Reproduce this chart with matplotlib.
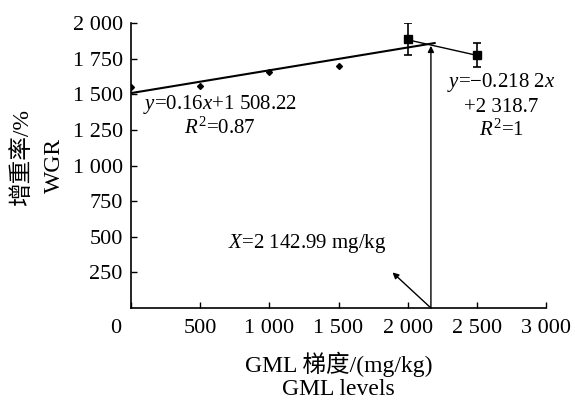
import numpy as np
import matplotlib
matplotlib.use("Agg")
import matplotlib.pyplot as plt
import matplotlib.transforms as mtransforms

plt.rcParams['font.family'] = ['Liberation Serif', 'Noto Sans CJK SC']
plt.rcParams['mathtext.fontset'] = 'custom'
plt.rcParams['mathtext.rm'] = 'Liberation Serif'
plt.rcParams['mathtext.it'] = 'Liberation Serif:italic'

# 数据
x_pts = [0, 500, 1000, 1500]
y_pts = [1550, 1555, 1655, 1695]
x_sq = [2000, 2500]
y_sq = [1886, 1775]
err_sq = [112, 84]

fit1_x = [0, 2195]
fit2_x = [2000, 2500]
x_opt = 2142.99

xticks = [0, 500, 1000, 1500, 2000, 2500, 3000]
xtick_labels = ['0', '500', '1 000', '1 500', '2 000', '2 500', '3 000']
yticks = [250, 500, 750, 1000, 1250, 1500, 1750, 2000]
ytick_labels = ['250', '500', '750', '1 000', '1 250', '1 500', '1 750', '2 000']

fig = plt.figure(figsize=(5.75, 4.04), dpi=100)
ax = fig.add_axes([0.2278, 0.2376, 0.7218, 0.7054])

# 拟合线
f1 = lambda x: 0.16 * np.asarray(x) + 1508.22
f2 = lambda x: -0.2182 * np.asarray(x) + 2318.7
ax.plot(fit1_x, f1(fit1_x), color='black', lw=1.5)
ax.plot(fit2_x, f2(fit2_x), color='black', lw=1.0)

# 数据点
ax.plot(x_pts, y_pts, 'D', color='black', ms=3)
ax.errorbar(x_sq, y_sq, yerr=err_sq, fmt='s', color='black', ms=6,
            capsize=3, elinewidth=1.2, capthick=1.2)

# 箭头
ax.annotate('', xy=(x_opt + 25, 1840), xytext=(x_opt + 25, 0),
            arrowprops=dict(arrowstyle='-|>', color='black', lw=1.0,
                            mutation_scale=9, shrinkA=0, shrinkB=0))
ax.annotate('', xy=(1890, 250), xytext=(x_opt + 25, 0),
            arrowprops=dict(arrowstyle='-|>', color='black', lw=1.0,
                            mutation_scale=9, shrinkA=0, shrinkB=0))

# 文本
fs = 15
ax.text(643, 1425, r'$y$=0.16$x$+1 508.22', ha='center', va='center', fontsize=fs)
ax.text(643, 1263, r'$R^2$=0.87', ha='center', va='center', fontsize=fs)
ax.text(2675, 1586, r'$y$=−0.218 2$x$', ha='center', va='center', fontsize=fs)
ax.text(2675, 1410, '+2 318.7', ha='center', va='center', fontsize=fs)
ax.text(2675, 1249, r'$R^2$=1', ha='center', va='center', fontsize=fs)
ax.text(1272, 456, r'$X$=2 142.99 mg/kg', ha='center', va='center', fontsize=fs)

ax.set_xlim(0, 3000)
ax.set_ylim(0, 2000)
ax.set_xticks(xticks)
ax.set_xticklabels(xtick_labels)
ax.set_yticks(yticks)
ax.set_yticklabels(ytick_labels)
ax.tick_params(direction='in', length=4, width=1, labelsize=16)
ax.tick_params(axis='x', pad=8)
ax.tick_params(axis='y', pad=6)
for s in ['top', 'right']:
    ax.spines[s].set_visible(False)
for s in ['left', 'bottom']:
    ax.spines[s].set_linewidth(1.2)

# "0" 标签左移
lbl0 = ax.get_xticklabels()[0]
lbl0.set_transform(lbl0.get_transform() + mtransforms.ScaledTranslation(-15 / 100, 0, fig.dpi_scale_trans))

fig.text(0.589, 0.097, 'GML 梯度/(mg/kg)', ha='center', va='center', fontsize=17)
fig.text(0.589, 0.036, 'GML levels', ha='center', va='center', fontsize=17)
fig.text(0.038, 0.611, '增重率/%', rotation=90, ha='center', va='center', fontsize=17)
fig.text(0.094, 0.59, 'WGR', rotation=90, ha='center', va='center', fontsize=17)

fig.savefig('out.png', dpi=100)
